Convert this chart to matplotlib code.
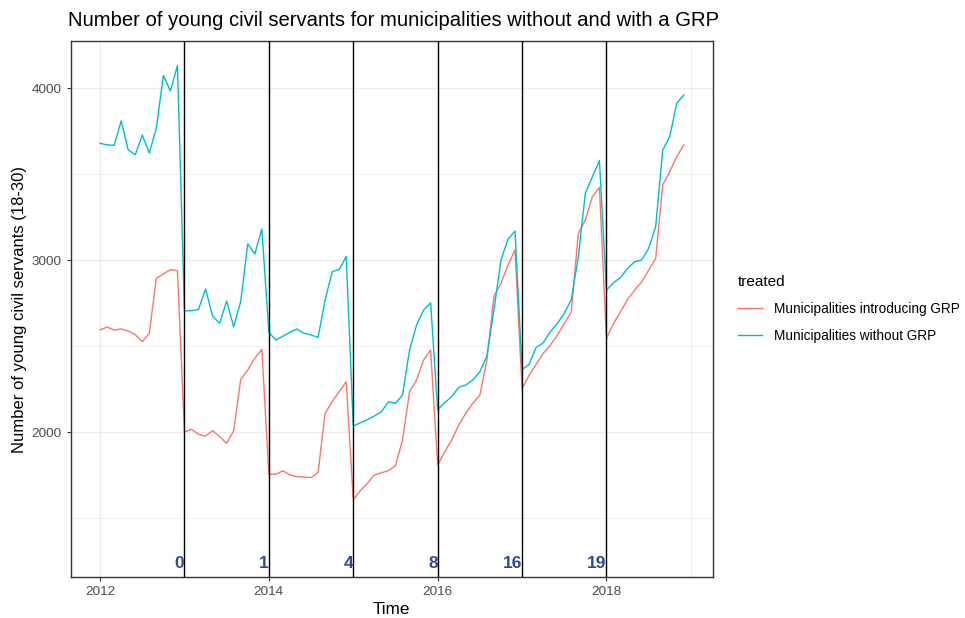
import numpy as np
import matplotlib.pyplot as plt
from matplotlib.ticker import MultipleLocator

plt.rcParams['font.family'] = ['Liberation Sans', 'DejaVu Sans']

# monthly series, Jan 2012 .. Dec 2018
months = 2012 + np.arange(84) / 12.0

introducing_grp = [
    2594, 2611, 2594, 2600, 2588, 2567, 2526, 2574, 2895, 2920, 2945, 2939,
    2000, 2016, 1986, 1977, 2008, 1973, 1934, 2008, 2307, 2361, 2429, 2481,
    1755, 1754, 1775, 1750, 1740, 1738, 1735, 1765, 2109, 2176, 2235, 2293,
    1604, 1659, 1701, 1750, 1763, 1775, 1804, 1953, 2235, 2303, 2419, 2477,
    1808, 1885, 1953, 2041, 2109, 2167, 2215, 2419, 2788, 2866, 2972, 3060,
    2253, 2330, 2394, 2457, 2505, 2563, 2631, 2700, 3156, 3234, 3370, 3424,
    2544, 2631, 2700, 2771, 2826, 2874, 2942, 3010, 3438, 3516, 3603, 3671,
]

without_grp = [
    3681, 3671, 3669, 3811, 3642, 3614, 3729, 3624, 3769, 4075, 3986, 4133,
    2706, 2706, 2714, 2833, 2674, 2633, 2763, 2613, 2761, 3095, 3037, 3182,
    2580, 2535, 2558, 2581, 2600, 2575, 2565, 2551, 2769, 2933, 2947, 3021,
    2035, 2054, 2072, 2093, 2118, 2176, 2167, 2215, 2477, 2623, 2710, 2752,
    2130, 2171, 2206, 2260, 2274, 2303, 2351, 2442, 2710, 3001, 3122, 3170,
    2363, 2394, 2492, 2519, 2583, 2631, 2690, 2771, 3020, 3389, 3486, 3580,
    2826, 2869, 2900, 2952, 2991, 3001, 3069, 3195, 3642, 3720, 3914, 3962,
]

# year of introduction and cumulative number of municipalities with GRP
cutoff_years = [2013, 2014, 2015, 2016, 2017, 2018]
n_treated = ['0', '1', '4', '8', '16', '19']

fig = plt.figure(figsize=(9.65, 6.18), dpi=100)
ax = fig.add_axes([0.0731, 0.0663, 0.6658, 0.8673])

ax.plot(months, introducing_grp, color='#F8766D', lw=1.0,
        label='Municipalities introducing GRP', zorder=3)
ax.plot(months, without_grp, color='#00BFC4', lw=1.0,
        label='Municipalities without GRP', zorder=3)

for yr, lab in zip(cutoff_years, n_treated):
    ax.axvline(yr, color='black', lw=1.0, zorder=4)
    ax.text(yr, 1237, lab, ha='right', va='center', fontsize=12.5,
            fontweight='bold', color='#2E4A9A', zorder=5)

ax.set_xlim(2011.65, 2019.263)
ax.set_ylim(1156, 4276)
ax.set_xticks([2012, 2014, 2016, 2018])
ax.set_xticklabels(['2012', '2014', '2016', '2018'])
ax.xaxis.set_minor_locator(MultipleLocator(1))
ax.set_yticks([2000, 3000, 4000])
ax.yaxis.set_minor_locator(MultipleLocator(500))

ax.grid(which='major', color='#EBEBEB', lw=1.0, zorder=0)
ax.grid(which='minor', color='#EBEBEB', lw=0.6, zorder=0)
ax.set_axisbelow(True)
ax.tick_params(which='major', length=3, width=0.8, color='#333333',
               labelcolor='#4D4D4D', labelsize=9.7)
ax.tick_params(which='minor', length=0)
for sp in ax.spines.values():
    sp.set_color('#333333')
    sp.set_linewidth(1.0)

ax.set_xlabel('Time', fontsize=12.3, labelpad=3)
ax.set_ylabel('Number of young civil servants (18-30)', fontsize=12, labelpad=3)
ax.set_title('Number of young civil servants for municipalities without and with a GRP',
             fontsize=14.6, loc='left', x=-0.004, pad=11)

leg = ax.legend(loc='center left', bbox_to_anchor=(1.02, 0.5), frameon=False,
                title='treated', fontsize=9.8, title_fontsize=11,
                handlelength=1.75, handletextpad=0.9, labelspacing=0.95)
leg._legend_box.align = 'left'

fig.savefig('out.png', dpi=100)
